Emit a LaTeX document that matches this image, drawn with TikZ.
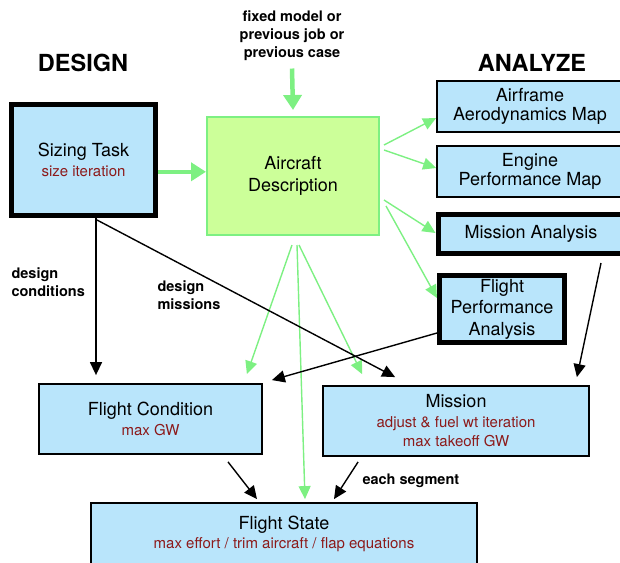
\documentclass[tikz,border=0pt]{standalone}
\usepackage{fontspec}
\setmainfont{TeX Gyre Heros}
\usetikzlibrary{arrows.meta}
\definecolor{boxblue}{RGB}{185,229,251}
\definecolor{descgreen}{RGB}{204,255,153}
\definecolor{arrgreen}{RGB}{125,240,130}
\definecolor{dred}{RGB}{140,26,26}
\newcommand{\redline}[1]{{\color{dred}\fontsize{15}{19.5}\selectfont #1}}

\begin{document}
\begin{tikzpicture}[x=1pt,y=-1pt,
  blubox/.style={draw,line width=1.8pt,fill=boxblue,align=center,inner sep=0pt,
    font=\fontsize{18}{19.5}\selectfont},
  heavy/.style={blubox,line width=5pt},
  grnbox/.style={blubox,draw=arrgreen,fill=descgreen,line width=2pt},
  lbl/.style={font=\bfseries\fontsize{14.5}{18}\selectfont},
  head/.style={font=\bfseries\fontsize{23.5}{26}\selectfont},
  blk/.style={-{Triangle[length=13pt,width=12pt]},line width=1.4pt},
  grn/.style={-{Triangle[length=13pt,width=12pt]},line width=1.4pt,draw=arrgreen},
  biggrn/.style={-{Triangle[length=15pt,width=18pt]},line width=4.5pt,draw=arrgreen}]
\useasboundingbox (0,0) rectangle (620,562);

\node[head] (design) at (83,63) {DESIGN};
\node[head] (analyze) at (532,63) {ANALYZE};
\node[lbl,align=center] (fixed) at (292,36) {fixed model or\\previous job or\\previous case};

\node[heavy,minimum width=144,minimum height=111] (sizing) at (83.5,160)
  {Sizing Task\\\redline{size iteration}};
\node[grnbox,minimum width=172,minimum height=118,font=\fontsize{18}{22}\selectfont] (acdesc) at (293,176)
  {Aircraft\\Description};
\node[blubox,minimum width=186,minimum height=51] (afmap) at (530,106.5)
  {Airframe\\Aerodynamics Map};
\node[blubox,minimum width=186,minimum height=51] (engmap) at (530,171.5)
  {Engine\\Performance Map};
\node[heavy,minimum width=186,minimum height=39] (misan) at (531,234)
  {Mission Analysis};
\node[heavy,minimum width=125,minimum height=67,font=\fontsize{18}{21.5}\selectfont] (fltperf) at (502,309)
  {Flight\\Performance\\Analysis};
\node[blubox,minimum width=223,minimum height=70] (fltcond) at (150.5,419)
  {Flight Condition\\\redline{max GW}};
\node[blubox,minimum width=266,minimum height=70] (mission) at (456,421)
  {Mission\\\redline{adjust \& fuel wt iteration}\\\redline{max takeoff GW}};
\node[blubox,minimum width=386,minimum height=62] (fltstate) at (284,534)
  {Flight State\\\redline{max effort / trim aircraft / flap equations}};

\node[lbl,align=left,anchor=west] (dcond) at (8,282) {design\\conditions};
\node[lbl,align=left,anchor=west] (dmis) at (154,295) {design\\missions};
\node[lbl,anchor=west] (segment) at (359,481) {each segment};

\draw[biggrn] (fixed.south) ++(0,4) -- ([yshift=6pt]acdesc.north);
\draw[biggrn] (sizing.-9) -- (acdesc.west |- sizing.-9);

\draw[grn] ([xshift=4pt,yshift=31pt]acdesc.east) -- ([yshift=-11.5pt]afmap.west);
\draw[grn] ([xshift=4pt,yshift=26pt]acdesc.east) -- ([yshift=3.5pt]engmap.west);
\draw[grn] ([xshift=4pt,yshift=-24pt]acdesc.east) -- ([yshift=1pt]misan.west);
\draw[grn] ([xshift=6pt,yshift=-30pt]acdesc.east) -- ([yshift=11pt]fltperf.west);
\draw[grn] ([xshift=-1pt,yshift=-9pt]acdesc.south) -- ([xshift=-16pt,yshift=9pt]fltcond.north east);
\draw[grn] ([xshift=4pt,yshift=-9pt]acdesc.south) -- ([xshift=21pt,yshift=3pt]fltstate.north);
\draw[grn] ([xshift=6pt,yshift=-9pt]acdesc.south) -- ([xshift=40pt,yshift=11pt]mission.north west);

\draw[blk,shorten >=8pt] ([xshift=12.5pt]sizing.south) -- ([xshift=12.5pt]sizing.south |- fltcond.north);
\draw[blk] ([xshift=13.5pt,yshift=-2pt]sizing.south) -- ([xshift=73pt,yshift=8pt]mission.north west);
\draw[blk] ([yshift=-24pt]fltperf.west) -- ([xshift=9pt,yshift=3pt]fltcond.north east);
\draw[blk] ([xshift=70pt,yshift=-7pt]misan.south) -- ([xshift=-13pt,yshift=8pt]mission.north east);
\draw[blk] ([xshift=77.5pt,yshift=-7pt]fltcond.south) -- ([xshift=-27pt,yshift=3pt]fltstate.north);
\draw[blk] ([xshift=36pt,yshift=-5pt]mission.south west) -- ([xshift=50pt,yshift=3pt]fltstate.north);
\end{tikzpicture}
\end{document}
